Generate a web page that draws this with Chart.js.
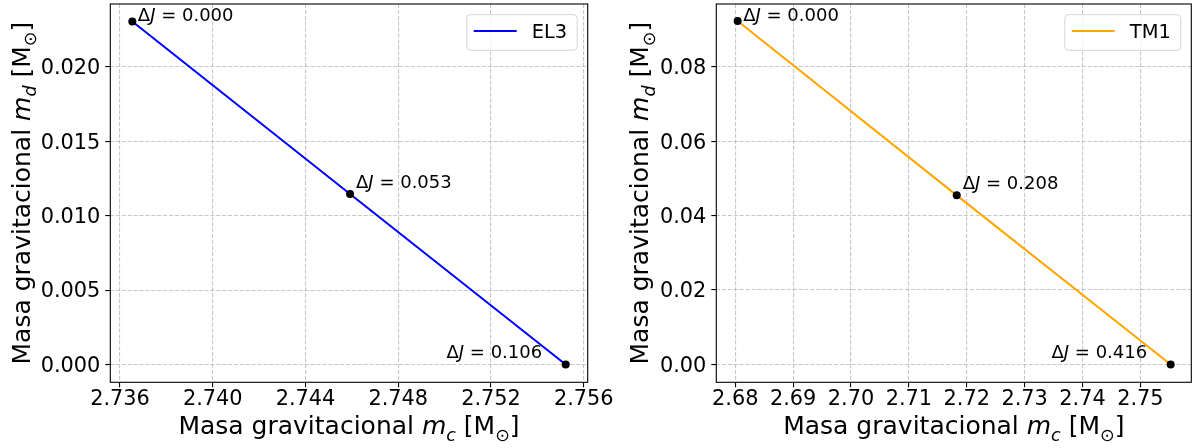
<!DOCTYPE html>
<html lang="es">
<head>
<meta charset="UTF-8">
<title>Masa gravitacional EL3 / TM1</title>
<script src="https://cdn.jsdelivr.net/npm/chart.js"></script>
<style>
body { margin: 0; background: #fff; }
#wrap { position: relative; width: 1198px; height: 448px; overflow: hidden; }
canvas { position: absolute; top: 0; }
#left { left: 0; }
#right { left: 600px; }
</style>
</head>
<body>
<div id="wrap">
  <canvas id="left" width="640" height="448"></canvas>
  <canvas id="right" width="598" height="448"></canvas>
</div>

<script>
// EL3 (left panel)
const el3Mc = [2.73653, 2.74592, 2.75522];
const el3Md = [0.02305, 0.011459, 0.0];
const el3DeltaJ = ['0.000', '0.053', '0.106'];
const el3XTicks = [2.736, 2.740, 2.744, 2.748, 2.752, 2.756];
const el3YTicks = [0.000, 0.005, 0.010, 0.015, 0.020];
const el3XRange = [2.73558, 2.75617];
const el3YRange = [-0.001199, 0.024224];

// TM1 (right panel)
const tm1Mc = [2.68041, 2.71827, 2.75525];
const tm1Md = [0.09233, 0.04546, 0.0];
const tm1DeltaJ = ['0.000', '0.208', '0.416'];
const tm1XTicks = [2.68, 2.69, 2.70, 2.71, 2.72, 2.73, 2.74, 2.75];
const tm1YTicks = [0.00, 0.02, 0.04, 0.06, 0.08];
const tm1XRange = [2.67672, 2.75881];
const tm1YRange = [-0.0048, 0.0969];

const FONT = '"DejaVu Sans", sans-serif';

// text pieces: [text, italic, subscript]
function drawParts(ctx, parts, size, x, y, align) {
  const fontFor = p => (p[1] ? 'italic ' : '') + (p[2] ? size * 0.7 : size) + 'px ' + FONT;
  let total = 0;
  const widths = parts.map(p => {
    ctx.font = fontFor(p);
    const w = ctx.measureText(p[0]).width;
    total += w;
    return w;
  });
  let cx = align === 'center' ? x - total / 2 : align === 'right' ? x - total : x;
  ctx.textAlign = 'left';
  ctx.textBaseline = 'alphabetic';
  parts.forEach((p, i) => {
    ctx.font = fontFor(p);
    ctx.fillText(p[0], cx, y + (p[2] ? size * 0.25 : 0));
    cx += widths[i];
  });
}

// frame, axis titles, annotations and legend
const extras = {
  id: 'extras',
  afterDraw(chart, args, o) {
    const ctx = chart.ctx;
    const a = chart.chartArea;
    const xs = chart.scales.x, ys = chart.scales.y;
    ctx.save();

    // annotations
    ctx.fillStyle = '#000';
    o.mc.forEach((m, i) => {
      const px = xs.getPixelForValue(m);
      const py = ys.getPixelForValue(o.md[i]);
      const off = o.labelOffsets[i];
      drawParts(ctx, [['Δ', 0, 0], ['J', 1, 0], [' = ', 0, 0], [o.dj[i], 0, 0]],
        18, px + off[0], py + off[1], off[2]);
    });

    // frame
    ctx.strokeStyle = '#000';
    ctx.lineWidth = 1.1;
    ctx.strokeRect(a.left, a.top, a.right - a.left, a.bottom - a.top);

    // axis titles
    ctx.fillStyle = '#000';
    drawParts(ctx, [['Masa gravitacional ', 0, 0], ['m', 1, 0], ['c', 1, 1], [' [M', 0, 0], ['⊙', 0, 1], [']', 0, 0]],
      25, (a.left + a.right) / 2, 434.3, 'center');
    ctx.save();
    ctx.translate(o.yTitleX, (a.top + a.bottom) / 2);
    ctx.rotate(-Math.PI / 2);
    drawParts(ctx, [['Masa gravitacional ', 0, 0], ['m', 1, 0], ['d', 1, 1], [' [M', 0, 0], ['⊙', 0, 1], [']', 0, 0]],
      25, 0, 0, 'center');
    ctx.restore();

    // legend
    const ds = chart.data.datasets[0];
    ctx.font = '19.44px ' + FONT;
    const tw = ctx.measureText(ds.label).width;
    const w = 65 + tw + 10, h = 35.7, r = 4;
    const lx = a.right - 10.5 - w, ly = a.top + 10.6;
    ctx.beginPath();
    ctx.moveTo(lx + r, ly);
    ctx.arcTo(lx + w, ly, lx + w, ly + h, r);
    ctx.arcTo(lx + w, ly + h, lx, ly + h, r);
    ctx.arcTo(lx, ly + h, lx, ly, r);
    ctx.arcTo(lx, ly, lx + w, ly, r);
    ctx.closePath();
    ctx.fillStyle = 'rgba(255,255,255,0.8)';
    ctx.fill();
    ctx.strokeStyle = '#d6d6d6';
    ctx.lineWidth = 1;
    ctx.stroke();
    ctx.beginPath();
    ctx.moveTo(lx + 7, ly + 16.3);
    ctx.lineTo(lx + 50, ly + 16.3);
    ctx.strokeStyle = ds.borderColor;
    ctx.lineWidth = 2;
    ctx.stroke();
    ctx.fillStyle = '#000';
    ctx.textAlign = 'left';
    ctx.textBaseline = 'alphabetic';
    ctx.fillText(ds.label, lx + 65, ly + 23.7);

    ctx.restore();
  }
};

function gridOpts() {
  return {
    color: 'rgba(176,176,176,0.7)',
    lineWidth: 1.1,
    borderDash: [4.1, 1.8],
    drawTicks: true,
    tickLength: 5,
    tickColor: '#000',
    tickWidth: 1.1,
    tickBorderDash: []
  };
}

function makeChart(id, c) {
  const pts = c.mc.map((x, i) => ({ x: x, y: c.md[i] }));
  return new Chart(document.getElementById(id), {
    type: 'line',
    data: {
      datasets: [
        { label: c.label, data: pts, borderColor: c.color, borderWidth: 2,
          pointRadius: 0, fill: false, tension: 0, order: 2 },
        { label: 'puntos', data: pts, showLine: false, pointRadius: 4,
          pointBackgroundColor: '#000', pointBorderWidth: 0, order: 1 }
      ]
    },
    options: {
      responsive: false,
      animation: false,
      events: [],
      layout: { padding: { left: 0, top: 0.7, right: c.padRight, bottom: 0 } },
      plugins: {
        legend: { display: false },
        tooltip: { enabled: false },
        extras: { mc: c.mc, md: c.md, dj: c.dj, yTitleX: c.yTitleX,
          labelOffsets: [[5.5, 0, 'left'], [6, -6, 'left'], [-23.5, -6, 'right']] }
      },
      scales: {
        x: {
          type: 'linear',
          min: c.xRange[0], max: c.xRange[1],
          afterBuildTicks: s => { s.ticks = c.xTicks.map(v => ({ value: v })); },
          afterFit: s => { s.height = 65.7; s.paddingLeft = 0; s.paddingRight = 0; },
          ticks: { callback: v => v.toFixed(c.xDec), color: '#000', padding: 0,
            font: { family: FONT, size: 20.83 }, maxRotation: 0, autoSkip: false },
          grid: gridOpts(),
          border: { display: false, dash: [4.1, 1.8] }
        },
        y: {
          type: 'linear',
          min: c.yRange[0], max: c.yRange[1],
          afterBuildTicks: s => { s.ticks = c.yTicks.map(v => ({ value: v })); },
          afterFit: s => { s.width = c.yWidth; s.paddingTop = 0; s.paddingBottom = 0; },
          ticks: { callback: v => v.toFixed(c.yDec), color: '#000', padding: 5, labelOffset: 2,
            font: { family: FONT, size: 20.83 }, autoSkip: false },
          grid: gridOpts(),
          border: { display: false, dash: [4.1, 1.8] }
        }
      }
    },
    plugins: [extras]
  });
}

makeChart('left', {
  label: 'EL3', color: '#0000ff',
  mc: el3Mc, md: el3Md, dj: el3DeltaJ,
  xTicks: el3XTicks, yTicks: el3YTicks, xRange: el3XRange, yRange: el3YRange,
  xDec: 3, yDec: 3, yWidth: 110.3, padRight: 52.3, yTitleX: 30
});

makeChart('right', {
  label: 'TM1', color: '#ffa500',
  mc: tm1Mc, md: tm1Md, dj: tm1DeltaJ,
  xTicks: tm1XTicks, yTicks: tm1YTicks, xRange: tm1XRange, yRange: tm1YRange,
  xDec: 2, yDec: 2, yWidth: 116.3, padRight: 6.7, yTitleX: 48.3
});
</script>
</body>
</html>
